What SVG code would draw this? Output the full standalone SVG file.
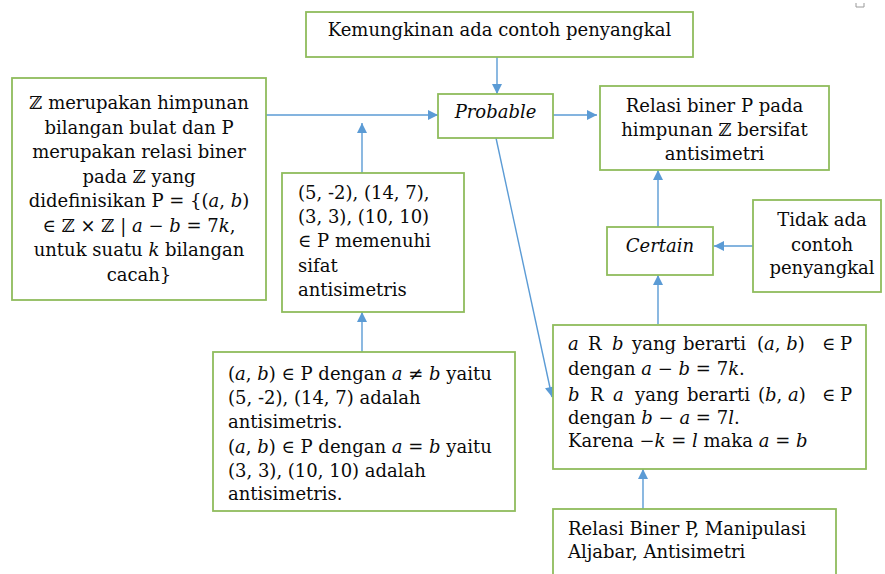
<svg xmlns="http://www.w3.org/2000/svg" width="885" height="574" viewBox="0 0 885 574">
<style>
.box{fill:#fff;stroke:#8fbc5c;stroke-width:1.8}
.t{font-family:"DejaVu Serif","Liberation Serif",serif;font-size:18px;fill:#0a0a0a}
.c{text-anchor:middle}
.i{font-style:italic}
.con line{stroke:#5b9bd5;stroke-width:1.4;marker-end:url(#ah)}
</style>
<defs>
<marker id="ah" viewBox="0 0 10 10" refX="10" refY="5" markerWidth="11" markerHeight="10" markerUnits="userSpaceOnUse" orient="auto">
<path d="M0,0 L10,5 L0,10 z" fill="#5b9bd5"/>
</marker>
</defs>
<rect width="885" height="574" fill="#fff"/>
<path d="M856,3 V7 H864 V3" fill="none" stroke="#9a9a9a" stroke-width="1"/>

<g id="connectors" class="con">
<line x1="497" y1="57" x2="497" y2="94"/>
<line x1="266" y1="115" x2="438" y2="115"/>
<line x1="362" y1="173" x2="362" y2="123"/>
<line x1="362" y1="352" x2="362" y2="312"/>
<line x1="553" y1="115" x2="597" y2="115"/>
<line x1="496" y1="138" x2="552" y2="397"/>
<line x1="658" y1="227" x2="658" y2="170"/>
<line x1="753" y1="246" x2="714" y2="246"/>
<line x1="658" y1="324" x2="658" y2="275"/>
<line x1="643" y1="509" x2="643" y2="469"/>
</g>

<g id="kemungkinan">
<rect class="box" x="306" y="12" width="387" height="45"/>
<text class="t c" x="499.5" y="36">Kemungkinan ada contoh penyangkal</text>
</g>

<g id="probable">
<rect class="box" x="438" y="94" width="115" height="44"/>
<text class="t c i" x="495.5" y="118">Probable</text>
</g>

<g id="relasi-biner">
<rect class="box" x="600" y="86" width="229" height="84"/>
<text class="t c" x="714.5" y="112">Relasi biner P pada</text>
<text class="t c" x="714.5" y="136">himpunan ℤ bersifat</text>
<text class="t c" x="714.5" y="160">antisimetri</text>
</g>

<g id="certain">
<rect class="box" x="607" y="227" width="106" height="48"/>
<text class="t c i" x="660" y="252">Certain</text>
</g>

<g id="tidak-ada">
<rect class="box" x="753" y="200" width="128" height="92"/>
<text class="t c" x="822" y="226">Tidak ada</text>
<text class="t c" x="822" y="251">contoh</text>
<text class="t c" x="822" y="274">penyangkal</text>
</g>

<g id="definisi">
<rect class="box" x="12" y="78" width="254" height="222"/>
<text class="t c" x="139" y="109">ℤ merupakan himpunan</text>
<text class="t c" x="139" y="133.5">bilangan bulat dan P</text>
<text class="t c" x="139" y="158">merupakan relasi biner</text>
<text class="t c" x="139" y="182.5">pada ℤ yang</text>
<text class="t c" x="139" y="207">didefinisikan P = {(<tspan class="i">a</tspan>, <tspan class="i">b</tspan>)</text>
<text class="t c" x="139" y="231.5">∈ ℤ × ℤ | <tspan class="i">a</tspan> − <tspan class="i">b</tspan> = 7<tspan class="i">k</tspan>,</text>
<text class="t c" x="139" y="256">untuk suatu <tspan class="i">k</tspan> bilangan</text>
<text class="t c" x="139" y="280.5">cacah}</text>
</g>

<g id="contoh">
<rect class="box" x="282" y="173" width="182" height="139"/>
<text class="t" x="298" y="199">(5, -2), (14, 7),</text>
<text class="t" x="298" y="223">(3, 3), (10, 10)</text>
<text class="t" x="298" y="247">∈ P memenuhi</text>
<text class="t" x="298" y="272">sifat</text>
<text class="t" x="298" y="296">antisimetris</text>
</g>

<g id="pasangan">
<rect class="box" x="213" y="352" width="302" height="159"/>
<text class="t" x="228" y="380">(<tspan class="i">a</tspan>, <tspan class="i">b</tspan>) ∈ P dengan <tspan class="i">a</tspan> ≠ <tspan class="i">b</tspan> yaitu</text>
<text class="t" x="228" y="404">(5, -2), (14, 7) adalah</text>
<text class="t" x="228" y="428">antisimetris.</text>
<text class="t" x="228" y="453">(<tspan class="i">a</tspan>, <tspan class="i">b</tspan>) ∈ P dengan <tspan class="i">a</tspan> = <tspan class="i">b</tspan> yaitu</text>
<text class="t" x="228" y="477">(3, 3), (10, 10) adalah</text>
<text class="t" x="228" y="500">antisimetris.</text>
</g>

<g id="pembuktian">
<rect class="box" x="553" y="325" width="313" height="144"/>
<text class="t" y="350"><tspan class="i" x="568">a</tspan><tspan x="588">R</tspan><tspan class="i" x="612">b</tspan><tspan x="632">yang</tspan><tspan x="683">berarti</tspan><tspan x="757">(<tspan class="i">a</tspan>, <tspan class="i">b</tspan>)</tspan><tspan x="822">∈</tspan><tspan x="840">P</tspan></text>
<text class="t" x="568" y="375">dengan <tspan class="i">a</tspan> − <tspan class="i">b</tspan> = 7<tspan class="i">k</tspan>.</text>
<text class="t" y="401"><tspan class="i" x="568">b</tspan><tspan x="590">R</tspan><tspan class="i" x="613">a</tspan><tspan x="635">yang</tspan><tspan x="687">berarti</tspan><tspan x="758">(<tspan class="i">b</tspan>, <tspan class="i">a</tspan>)</tspan><tspan x="822">∈</tspan><tspan x="840">P</tspan></text>
<text class="t" x="568" y="424">dengan <tspan class="i">b</tspan> − <tspan class="i">a</tspan> = 7<tspan class="i">l</tspan>.</text>
<text class="t" x="568" y="447">Karena −<tspan class="i">k</tspan> = <tspan class="i">l</tspan> maka <tspan class="i">a</tspan> = <tspan class="i">b</tspan></text>
</g>

<g id="konsep">
<rect class="box" x="553" y="509" width="283" height="80"/>
<text class="t" x="568" y="535">Relasi Biner P, Manipulasi</text>
<text class="t" x="568" y="558">Aljabar, Antisimetri</text>
</g>
</svg>
